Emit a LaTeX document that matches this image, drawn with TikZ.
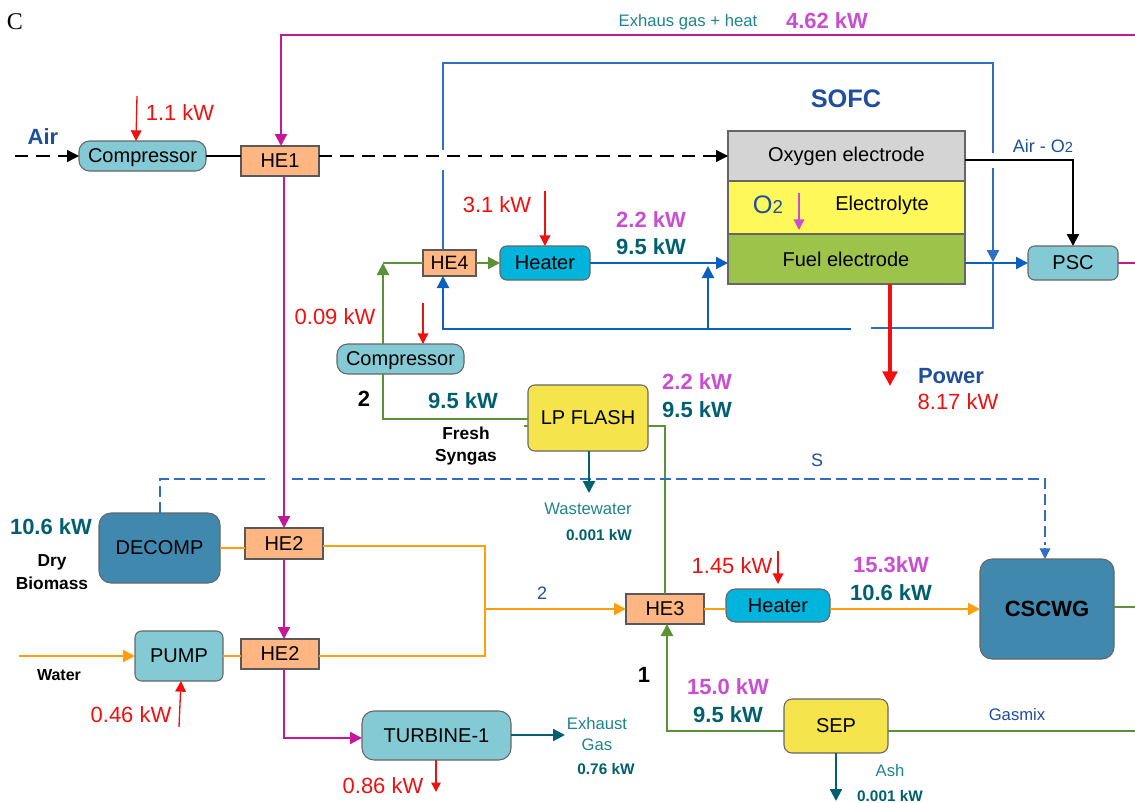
\documentclass[tikz,border=0pt]{standalone}
\usepackage{fontspec}
\setmainfont{Liberation Sans}
\newfontfamily\serifc{Liberation Serif}
\usetikzlibrary{arrows.meta,shapes.geometric}
\definecolor{cComp}{HTML}{84CAD5}
\definecolor{cHE}{HTML}{FFB682}
\definecolor{cHeat}{HTML}{00B4DC}
\definecolor{cYel}{HTML}{F5E44C}
\definecolor{cOxy}{HTML}{D4D4D4}
\definecolor{cElec}{HTML}{FFF85A}
\definecolor{cFuel}{HTML}{9DC34B}
\definecolor{cDark}{HTML}{4088AE}
\definecolor{cMag}{HTML}{C4189A}
\definecolor{cGrn}{HTML}{5B9237}
\definecolor{cOrg}{HTML}{FF9F10}
\definecolor{cBlu}{HTML}{0B5FC0}
\definecolor{cBlb}{HTML}{2E6FC4}
\definecolor{cTeal}{HTML}{006070}
\definecolor{cLteal}{HTML}{1F858C}
\definecolor{cPink}{HTML}{C850D0}
\definecolor{cNavy}{HTML}{1F4E9C}
\definecolor{cRed}{HTML}{F01010}
\newcommand{\fz}[1]{\fontsize{#1}{#1}\selectfont}
\newcommand{\pnode}[7]{\node[#1,minimum width={(#5-#3)*0.75pt},minimum height={(#6-#4)*0.75pt}] (#2) at ({(#3+#5)/2},{(#4+#6)/2}) {#7};}
\tikzset{
  x=0.75pt,y=-0.75pt,
  unit/.style={draw=black!60,line width=0.8pt,inner sep=0,outer sep=0,font=\fz{15},text=black},
  rnd/.style={unit,rounded corners=5pt},
  pill/.style={unit,rounded corners=8pt},
  hex/.style={unit,fill=cHE,draw=black!65},
  lab/.style={inner sep=0,outer sep=0},
  redlab/.style={lab,text=cRed,font=\fz{16.5}},
  pinklab/.style={lab,text=cPink,font=\fz{16.5}\bfseries},
  dteal/.style={lab,text=cTeal,font=\fz{16.5}\bfseries},
  steal/.style={lab,text=cTeal,font=\fz{11.5}\bfseries},
  lteal/.style={lab,text=cLteal,font=\fz{12.5}},
  navylab/.style={lab,text=cNavy,font=\fz{13.5}},
  blk/.style={lab,text=black,font=\fz{13}\bfseries},
  flow/.style={line width=1.7pt},
  tip/.style={-{Triangle[length=9pt,width=9pt]}},
  redtip/.style={-{Triangle[length=8pt,width=8pt]}},
  smalltip/.style={-{Triangle[length=7pt,width=7pt]}},
  magline/.style={flow,cMag},
  grnline/.style={flow,cGrn},
  orgline/.style={flow,cOrg},
  bluline/.style={flow,cBlu},
  bl2line/.style={flow,cBlb},
  redline/.style={line width=1pt,cRed},
  tealline/.style={flow,cTeal},
  airdash/.style={flow,black,dash pattern=on 10pt off 6pt},
  sdash/.style={line width=1.2pt,cBlb,dash pattern=on 8pt off 4pt},
}
\begin{document}
\begin{tikzpicture}
\useasboundingbox (0,0) rectangle (1135,803);
\fill[white] (0,0) rectangle (1135,803);
% units
\pnode{pill,fill=cComp}{compA}{79}{141}{206}{171}{\raisebox{0pt}[\height][0pt]{Compressor}}
\pnode{hex}{heA}{241}{146}{319}{176}{HE1}
\pnode{hex,font=\fz{14.5}}{heD}{423}{250}{476}{276}{HE4}
\pnode{rnd,fill=cHeat}{heatA}{500}{246}{590}{280}{Heater}
\pnode{pill,fill=cComp}{compB}{337}{344}{464}{374}{\raisebox{0pt}[\height][0pt]{Compressor}}
\pnode{rnd,fill=cYel}{flash}{528}{385}{648}{451}{LP FLASH}
\pnode{unit,fill=cOxy}{oxy}{728}{131}{965}{181}{Oxygen electrode}
\pnode{unit,fill=cElec}{elec}{728}{181}{965}{234}{}
\pnode{unit,fill=cFuel}{fuel}{728}{234}{965}{284}{}
\pnode{rnd,fill=cComp}{psc}{1028}{246}{1118}{280}{PSC}
\pnode{rnd,fill=cDark,rounded corners=9pt}{decomp}{99}{513}{220}{583}{DECOMP}
\pnode{hex}{heB}{245}{528}{323}{559}{HE2}
\pnode{rnd,fill=cComp}{pump}{135}{631}{223}{681}{PUMP}
\pnode{hex}{heC}{241}{639}{319}{669}{HE2}
\pnode{rnd,fill=cComp,rounded corners=9pt}{turb}{362}{711}{511}{760}{TURBINE-1}
\pnode{hex}{heE}{626}{594}{704}{624}{HE3}
\pnode{rnd,fill=cHeat,rounded corners=7pt}{heatB}{726}{589}{830}{622}{Heater}
\pnode{rnd,fill=cDark,rounded corners=9pt,font=\fz{16.5}\bfseries}{cscwg}{980}{559}{1114}{659}{CSCWG}
\pnode{rnd,fill=cYel,rounded corners=6pt}{sep}{784}{699}{888}{753}{SEP}
% free ends
\coordinate (magE) at (1135,35);
\coordinate (pscE) at (1135,263);
\coordinate (airS) at (15,156);
\coordinate (watS) at (19,656);
\coordinate (gasE) at (1135,731);
\coordinate (csE) at (1135,607);
% magenta
\draw[magline,tip] (magE) -- (281,35) -- (heA.north -| 281,0);
\draw[magline,tip] (heA.south -| 284,0) -- (heB.north -| 284,0);
\draw[magline,tip] (heB.south -| 284,0) -- (heC.north -| 284,0);
\draw[magline,tip] (heC.south -| 284,0) -- (284,738) -- (turb.west |- 0,738);
\draw[magline] (psc.east) -- (pscE);
% blue loop
\draw[bl2line] (heD.north -| 443,0) -- (443,170);
\draw[bl2line] (443,150) -- (443,63) -- (993,63) -- (993,153);
\draw[bl2line,tip] (993,168) -- (993,262);
\draw[bl2line] (993,262) -- (993,328) -- (871,328);
\draw[bluline,tip] (851,329) -- (443,329) -- (heD.south -| 443,0);
\draw[bluline,tip] (708,329) -- (708,266);
\draw[bluline,tip] (heatA.east |- 0,263) -- (fuel.west |- 0,263);
\draw[bluline,tip] (fuel.east |- 0,263) -- (psc.west);
% air
\draw[airdash] (airS) -- (70,156);
\draw[black,line width=1pt,-{Triangle[length=9pt,width=9pt]}] (70,156) -- (compA.west);
\draw[black,line width=1.7pt] (compA.east) -- (heA.west |- 0,156);
\draw[airdash] (heA.east |- 0,156) -- (718,156);
\draw[black,line width=1pt,-{Triangle[length=9pt,width=9pt]}] (714,156) -- (oxy.west);
\draw[flow,black,tip] (oxy.east |- 0,160) -- (1073,160) -- (psc.north -| 1073,0);
% green
\draw[grnline,tip] (compB.north -| 383,0) -- (383,263);
\draw[grnline] (383,263) -- (heD.west |- 0,263);
\draw[grnline,tip] (heD.east |- 0,263) -- (heatA.west |- 0,263);
\draw[grnline] (compB.south -| 383,0) -- (383,419) -- (flash.west |- 0,419);
\draw[grnline] (flash.west |- 0,426) -- (524,426);
\draw[grnline] (flash.east |- 0,426) -- (665,426) -- (heE.north -| 665,0);
\draw[grnline,tip] (sep.west |- 0,731) -- (667,731) -- (heE.south -| 667,0);
\draw[grnline] (sep.east |- 0,731) -- (gasE);
\draw[grnline] (cscwg.east |- 0,607) -- (csE);
% orange
\draw[orgline,tip] (watS) -- (pump.west |- 0,656);
\draw[orgline] (pump.east |- 0,656) -- (heC.west |- 0,656);
\draw[orgline] (heC.east |- 0,656) -- (485,656) -- (485,546) -- (heB.east |- 0,546);
\draw[orgline] (decomp.east |- 0,548) -- (heB.west |- 0,548);
\draw[orgline,tip] (485,609) -- (heE.west |- 0,609);
\draw[orgline] (heE.east |- 0,609) -- (heatB.west |- 0,609);
\draw[orgline,tip] (heatB.east |- 0,609) -- (cscwg.west |- 0,609);
% S dashed
\draw[sdash] (decomp.north -| 160,0) -- (160,479) -- (270,479);
\draw[sdash] (292,479) -- (1045,479) -- (1045,545);
\draw[line width=1pt,cBlb,-{Triangle[length=8pt,width=8pt]}] (1045,548) -- (cscwg.north -| 1045,0);
% red
\draw[redline,redtip] (137,96) -- (compA.north -| 136,0);
\draw[redline,redtip] (545,191) -- (heatA.north -| 545,0);
\draw[redline,redtip] (423,303) -- (compB.north -| 423,0);
\draw[redline,redtip] (179,727) -- (pump.south -| 181,0);
\draw[redline,smalltip] (turb.south -| 436,0) -- (436,792);
\draw[redline,redtip] (778,551) -- (778,584);
\draw[line width=2.4pt,cRed,-{Triangle[length=11pt,width=11pt]}] (fuel.south -| 890,0) -- (890,386);
\draw[line width=1pt,cPink,-{Triangle[length=8pt,width=8pt]}] (799,193) -- (799,230);
% teal
\draw[tealline,tip] (flash.south -| 589,0) -- (589,493);
\draw[tealline,tip] (turb.east |- 0,735) -- (565,735);
\draw[tealline,tip] (sep.south -| 836,0) -- (836,801);
% labels
\node[lab,font=\serifc\fz{18}] (lC) at (15,22) {C};
\node[lteal] (l1) at (688,22) {Exhaus gas + heat};
\node[pinklab] (l2) at (827,21) {4.62 kW};
\node[lab,text=cNavy,font=\fz{19}\bfseries] (l3) at (846,99) {SOFC};
\node[lab,text=cNavy,font=\fz{16.5}\bfseries] (l4) at (43,137) {Air};
\node[redlab] (l5) at (180,113) {1.1 kW};
\node[lab,font=\fz{15}] (l6) at (882,205) {Electrolyte};
\node[lab,text=cNavy,font=\fz{19}] (l7) at (768,205) {O{\fz{14}2}};
\node[lab,font=\fz{15}] (l8) at (846,259) {Fuel electrode};
\node[navylab] (l9) at (1043,146) {Air - O{\fz{11}2}};
\node[pinklab] (l10) at (651,220) {2.2 kW};
\node[dteal] (l11) at (651,247) {9.5 kW};
\node[redlab] (l12) at (497,205) {3.1 kW};
\node[redlab] (l13) at (335,317) {0.09 kW};
\node[lab,font=\fz{16.5}\bfseries] (l14) at (364,399) {2};
\node[dteal] (l15) at (463,401) {9.5 kW};
\node[blk] (l16) at (466,433) {Fresh};
\node[blk] (l17) at (466,457) {Syngas};
\node[pinklab] (l18) at (697,382) {2.2 kW};
\node[dteal] (l19) at (697,410) {9.5 kW};
\node[lab,text=cNavy,font=\fz{16.5}\bfseries] (l20) at (951,376) {Power};
\node[redlab] (l21) at (958,402) {8.17 kW};
\node[navylab] (l22) at (817,460) {S};
\node[dteal] (l23) at (51,527) {10.6 kW};
\node[blk] (l24) at (52,562) {Dry};
\node[blk] (l25) at (52,583) {Biomass};
\node[lteal] (l26) at (588,509) {Wastewater};
\node[steal] (l27) at (599,535) {0.001 kW};
\node[navylab] (l28) at (542,593) {2};
\node[lab,font=\fz{12}\bfseries] (l29) at (59,675) {Water};
\node[redlab] (l30) at (131,715) {0.46 kW};
\node[redlab] (l31) at (383,786) {0.86 kW};
\node[lteal] (l32) at (597,724) {Exhaust};
\node[lteal] (l33) at (597,745) {Gas};
\node[steal] (l34) at (606,769) {0.76 kW};
\node[redlab] (l35) at (732,566) {1.45 kW};
\node[pinklab] (l36) at (891,565) {15.3kW};
\node[dteal] (l37) at (891,593) {10.6 kW};
\node[lab,font=\fz{16.5}\bfseries] (l38) at (644,675) {1};
\node[pinklab] (l39) at (728,687) {15.0 kW};
\node[dteal] (l40) at (728,715) {9.5 kW};
\node[lab,text=cNavy,font=\fz{12.5}] (l41) at (1017,715) {Gasmix};
\node[lteal] (l42) at (890,771) {Ash};
\node[steal] (l43) at (890,796) {0.001 kW};
\end{tikzpicture}
\end{document}
